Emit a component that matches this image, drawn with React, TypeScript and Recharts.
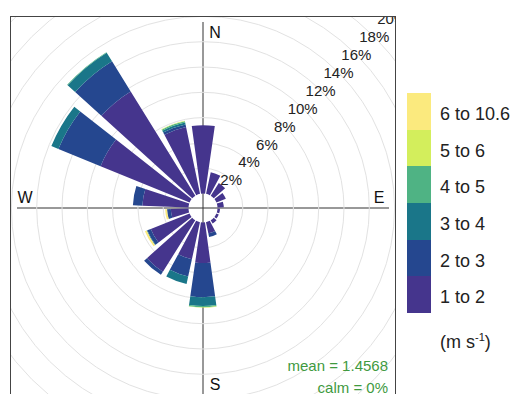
import React from "react";
import {
  RadialBarChart,
  RadialBar,
  PolarGrid,
  PolarAngleAxis,
  PolarRadiusAxis,
} from "recharts";

// wind direction bins (degrees, clockwise from north)
const directions = [0, 20, 40, 60, 80, 100, 120, 140, 160, 180, 200, 220, 240, 260, 280, 300, 320, 340];

// frequency (%) contributed by each wind speed class, per direction
const ws1to2 = [5.4, 1.75, 1.2, 0.8, 0.5, 0.2, 0.2, 0.3, 0.9, 3.2, 3.0, 4.8, 3.3, 1.4, 3.65, 7.6, 9.7, 5.4];
const ws2to3 = [0, 0, 0, 0, 0, 0, 0, 0, 0.3, 2.7, 1.4, 0.3, 0.3, 0.3, 0.75, 3.6, 2.8, 0.2];
const ws3to4 = [0, 0, 0, 0, 0, 0, 0, 0, 0, 0.7, 0.6, 0, 0.05, 0, 0, 0.6, 0.8, 0.15];
const ws4to5 = [0, 0, 0, 0, 0, 0, 0, 0, 0, 0.1, 0, 0, 0, 0, 0, 0, 0.05, 0.1];
const ws5to6 = [0, 0, 0, 0, 0, 0, 0, 0, 0, 0.03, 0, 0, 0, 0, 0, 0, 0, 0.05];
const ws6to10 = [0, 0, 0, 0, 0, 0, 0, 0, 0, 0, 0, 0, 0.15, 0.15, 0, 0, 0, 0];

const binLabels = ["1 to 2", "2 to 3", "3 to 4", "4 to 5", "5 to 6", "6 to 10.6"];
const binColors = ["#45358d", "#25478f", "#1a7689", "#4fb384", "#d3ee5c", "#fbea7e"];
const ringTicks = [2, 4, 6, 8, 10, 12, 14, 16, 18, 20];

const meanText = "mean = 1.4568";
const calmText = "calm = 0%";

const series = [ws1to2, ws2to3, ws3to4, ws4to5, ws5to6, ws6to10];
const rows = directions.map((dir, i) => {
  const row: Record<string, number> = { dir };
  series.forEach((s, k) => (row[`b${k}`] = s[i]));
  return row;
});

const FONT = '"Liberation Sans", Arial, sans-serif';
const PANEL_W = 384;
const PANEL_H = 380;
const CX = 192;
const CY = 191;
const HOLE = 14.5;
const OUTER = 267.5;
const ARM = 186;
const LABEL_R = 176;

function PctTick(props: any) {
  const { x, y, payload } = props;
  return (
    <text x={x} y={y} textAnchor="middle" dominantBaseline="central" fontSize={15} fill="#222" fontFamily={FONT}>
      {payload.value}%
    </text>
  );
}

export default function App() {
  return (
    <div style={{ position: "absolute", left: 0, top: 0, width: 517, height: 394, background: "#fff", fontFamily: FONT }}>
      <div
        style={{
          position: "absolute",
          left: 10,
          top: 16,
          width: PANEL_W,
          height: PANEL_H,
          border: "1px solid #444",
          overflow: "hidden",
        }}
      >
        <svg width={PANEL_W} height={PANEL_H} style={{ position: "absolute", left: 0, top: 0 }}>
          <line x1={CX - ARM} y1={CY} x2={CX + ARM} y2={CY} stroke="#333" strokeWidth={1} />
          <line x1={CX} y1={CY - ARM} x2={CX} y2={CY + ARM + 20} stroke="#333" strokeWidth={1} />
        </svg>
        <div style={{ position: "absolute", left: 0, top: 0 }}>
          <RadialBarChart
            width={PANEL_W}
            height={PANEL_H}
            data={rows}
            layout="centric"
            cx={CX}
            cy={CY}
            innerRadius={HOLE}
            outerRadius={OUTER}
            startAngle={80}
            endAngle={-280}
            barCategoryGap="9%"
            margin={{ top: 0, right: 0, bottom: 0, left: 0 }}
          >
            <PolarGrid gridType="circle" radialLines={false} stroke="#e2e2e2" />
            <PolarAngleAxis type="category" dataKey="dir" tick={false} axisLine={false} tickLine={false} />
            <PolarRadiusAxis
              type="number"
              domain={[0, 20]}
              ticks={ringTicks}
              angle={45}
              axisLine={false}
              tickLine={false}
              tick={<PctTick />}
            />
            {binLabels.map((name, k) => (
              <RadialBar
                key={name}
                name={name}
                dataKey={`b${k}`}
                stackId="ws"
                fill={binColors[k]}
                isAnimationActive={false}
              />
            ))}
          </RadialBarChart>
        </div>
        <svg width={PANEL_W} height={PANEL_H} style={{ position: "absolute", left: 0, top: 0, pointerEvents: "none" }}>
          <g fontFamily={FONT} fontSize={16} fill="#111" dominantBaseline="central" textAnchor="middle">
            <text x={CX + 12} y={CY - LABEL_R}>N</text>
            <text x={CX + LABEL_R} y={CY - 11}>E</text>
            <text x={CX + 12} y={CY + LABEL_R}>S</text>
            <text x={CX - LABEL_R - 2} y={CY - 11}>W</text>
          </g>
          <g fontFamily={FONT} fontSize={15} fill="#3f9a3f" textAnchor="end">
            <text x={PANEL_W - 7} y={354}>{meanText}</text>
            <text x={PANEL_W - 7} y={376}>{calmText}</text>
          </g>
        </svg>
      </div>
      <div style={{ position: "absolute", left: 407, top: 93 }}>
        {binLabels
          .map((name, k) => ({ name, color: binColors[k] }))
          .reverse()
          .map((b) => (
            <div key={b.name} style={{ display: "flex", alignItems: "center", height: 36.7 }}>
              <div style={{ width: 24, height: 36.7, background: b.color }} />
              <span style={{ marginLeft: 9, fontSize: 18, color: "#222", position: "relative", top: 3 }}>{b.name}</span>
            </div>
          ))}
        <div style={{ marginLeft: 33, marginTop: 18, fontSize: 18, color: "#222" }}>
          (m s<sup style={{ fontSize: 11 }}>-1</sup>)
        </div>
      </div>
    </div>
  );
}
